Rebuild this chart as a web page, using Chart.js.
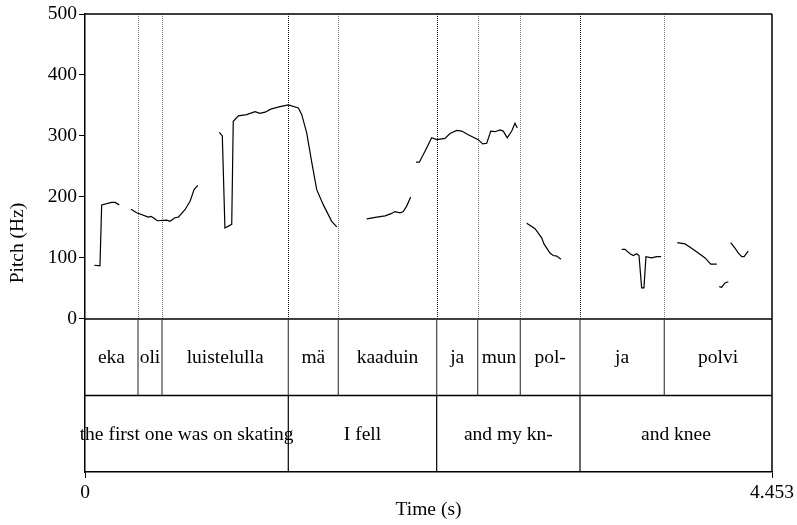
<!DOCTYPE html>
<html>
<head>
<meta charset="utf-8">
<script src="https://cdn.jsdelivr.net/npm/chart.js@4"></script>
<style>
  html, body { margin: 0; padding: 0; background: #fff; }
</style>
</head>
<body>
<canvas id="pitchChart" width="797" height="525"></canvas>
<script>
// pitch track, one array per voiced stretch (time in s, pitch in Hz)
const pitchTimes = [
    [0.060, 0.097, 0.108, 0.173, 0.195, 0.222],
    [0.298, 0.335, 0.410, 0.428, 0.443, 0.469, 0.530, 0.551, 0.583, 0.605, 0.648, 0.681, 0.707, 0.731],
    [0.871, 0.890, 0.907, 0.951, 0.961, 0.994, 1.048, 1.102, 1.134, 1.167, 1.204, 1.264, 1.318, 1.383, 1.405, 1.437, 1.469, 1.502, 1.545, 1.599, 1.632],
    [1.826, 1.891, 1.945, 1.988, 2.009, 2.042, 2.063, 2.085, 2.111],
    [2.146, 2.167, 2.204, 2.247, 2.280, 2.333, 2.366, 2.409, 2.442, 2.484, 2.549, 2.578, 2.604, 2.630, 2.658, 2.690, 2.711, 2.737, 2.766, 2.787, 2.802],
    [2.863, 2.917, 2.960, 2.975, 3.014, 3.035, 3.058, 3.085],
    [3.479, 3.500, 3.533, 3.554, 3.576, 3.591, 3.608, 3.623, 3.636, 3.673, 3.706, 3.734],
    [3.839, 3.889, 3.932, 3.975, 4.019, 4.056, 4.095],
    [4.111, 4.127, 4.148, 4.170],
    [4.185, 4.213, 4.235, 4.257, 4.272, 4.299]
];
const pitchHz = [
    [88, 87, 187, 191, 191, 187],
    [180, 174, 167, 168, 166, 161, 162, 160, 166, 167, 179, 193, 212, 219],
    [306, 300, 149, 155, 324, 333, 335, 340, 337, 339, 344, 348, 351, 346, 335, 305, 258, 212, 187, 160, 151],
    [164, 167, 169, 173, 176, 174, 176, 185, 200],
    [257, 257, 275, 297, 294, 296, 304, 309, 308, 302, 294, 287, 288, 308, 307, 310, 308, 297, 308, 321, 313],
    [157, 148, 133, 123, 108, 104, 103, 98],
    [114, 114, 107, 104, 107, 104, 51, 51, 102, 100, 102, 102],
    [125, 123, 116, 108, 100, 90, 90],
    [53, 52, 59, 61],
    [125, 116, 108, 102, 102, 111]
];

// word tier (Finnish) and translation tier
const wordBounds = [0, 0.3435, 0.4991, 1.3177, 1.6418, 2.2796, 2.5453, 2.8215, 3.2084, 3.7548, 4.453];
const words = ['eka', 'oli', 'luistelulla', 'mä', 'kaaduin', 'ja', 'mun', 'pol-', 'ja', 'polvi'];
const glossBounds = [0, 1.3177, 2.2796, 3.2084, 4.453];
const glosses = ['the first one was on skating', 'I fell', 'and my kn-', 'and knee'];

const yTicks = [0, 100, 200, 300, 400, 500];
const xTickValues = [0, 4.453];
const xTickLabels = ['0', '4.453'];

const FONT = 'Liberation Serif, Times New Roman, serif';
const TIER_MID = -125.5;   // value units below 0 used for the two tiers
const TIER_BOTTOM = -251;

Chart.defaults.color = '#000';
Chart.defaults.font.family = FONT;
Chart.defaults.font.size = 19.5;

const datasets = pitchTimes.map((ts, i) => ({
    data: ts.map((t, j) => ({ x: t, y: pitchHz[i][j] })),
    borderColor: '#000',
    borderWidth: 1.2,
    pointRadius: 0,
    tension: 0,
    fill: false
}));

const tierPlugin = {
    id: 'tiers',
    beforeDatasetsDraw(chart) {
        const { ctx, chartArea: a, scales: { x, y } } = chart;
        ctx.save();
        // dotted boundary lines in the pitch area
        ctx.lineWidth = 1;
        ctx.setLineDash([1, 1]);
        wordBounds.slice(1, -1).forEach(b => {
            const shared = glossBounds.includes(b);
            ctx.strokeStyle = shared ? '#111' : '#777';
            const px = Math.round(x.getPixelForValue(b)) + 0.5;
            ctx.beginPath();
            ctx.moveTo(px, a.top);
            ctx.lineTo(px, y.getPixelForValue(0));
            ctx.stroke();
        });
        ctx.restore();
    },
    afterDraw(chart) {
        const { ctx, chartArea: a, scales: { x, y } } = chart;
        const y0 = y.getPixelForValue(0);
        const yMid = y.getPixelForValue(TIER_MID);
        const yBot = y.getPixelForValue(TIER_BOTTOM);
        ctx.save();
        ctx.strokeStyle = '#000';
        ctx.lineWidth = 1.5;
        ctx.beginPath();
        ctx.moveTo(a.left, a.top); ctx.lineTo(a.right, a.top);
        ctx.moveTo(a.right, a.top); ctx.lineTo(a.right, a.bottom);
        ctx.moveTo(a.left, y0); ctx.lineTo(a.right, y0);
        ctx.moveTo(a.left, yMid); ctx.lineTo(a.right, yMid);
        ctx.stroke();

        ctx.lineWidth = 1.2;
        ctx.strokeStyle = '#444';
        wordBounds.slice(1, -1).forEach(b => {
            const px = x.getPixelForValue(b);
            ctx.beginPath(); ctx.moveTo(px, y0); ctx.lineTo(px, yMid); ctx.stroke();
        });
        ctx.strokeStyle = '#000';
        glossBounds.slice(1, -1).forEach(b => {
            const px = x.getPixelForValue(b);
            ctx.beginPath(); ctx.moveTo(px, yMid); ctx.lineTo(px, yBot); ctx.stroke();
        });

        ctx.fillStyle = '#000';
        ctx.font = '19.5px ' + FONT;
        ctx.textAlign = 'center';
        ctx.textBaseline = 'middle';
        words.forEach((w, i) => {
            const cx = (x.getPixelForValue(wordBounds[i]) + x.getPixelForValue(wordBounds[i + 1])) / 2;
            ctx.fillText(w, cx, (y0 + yMid) / 2 + 1);
        });
        glosses.forEach((g, i) => {
            const cx = (x.getPixelForValue(glossBounds[i]) + x.getPixelForValue(glossBounds[i + 1])) / 2;
            ctx.fillText(g, cx, (yMid + yBot) / 2 + 1);
        });
        ctx.restore();
    }
};

new Chart(document.getElementById('pitchChart'), {
    type: 'line',
    data: { datasets: datasets },
    options: {
        responsive: false,
        animation: false,
        layout: { padding: { top: 14, right: 25, bottom: 0, left: 0 } },
        plugins: { legend: { display: false }, tooltip: { enabled: false } },
        scales: {
            x: {
                type: 'linear',
                min: 0,
                max: 4.453,
                afterBuildTicks: s => { s.ticks = xTickValues.map(v => ({ value: v })); },
                afterFit: s => { s.height = 53; },
                ticks: { autoSkip: false, maxRotation: 0, padding: 3, callback: (v, i) => xTickLabels[i] },
                grid: { drawOnChartArea: false, tickLength: 6, color: '#000' },
                border: { color: '#000', width: 1.5 },
                title: { display: true, text: 'Time (s)', padding: { top: 0, bottom: 3 } }
            },
            y: {
                min: TIER_BOTTOM,
                max: 500,
                afterBuildTicks: s => { s.ticks = yTicks.map(v => ({ value: v })); },
                afterFit: s => { s.width = 85; },
                ticks: { padding: 2 },
                grid: { drawOnChartArea: false, tickLength: 6, color: '#000' },
                border: { color: '#000', width: 1.5 },
                title: { display: true, text: 'Pitch (Hz)', padding: { top: 6, bottom: 0 } }
            }
        }
    },
    plugins: [tierPlugin]
});
</script>
</body>
</html>
